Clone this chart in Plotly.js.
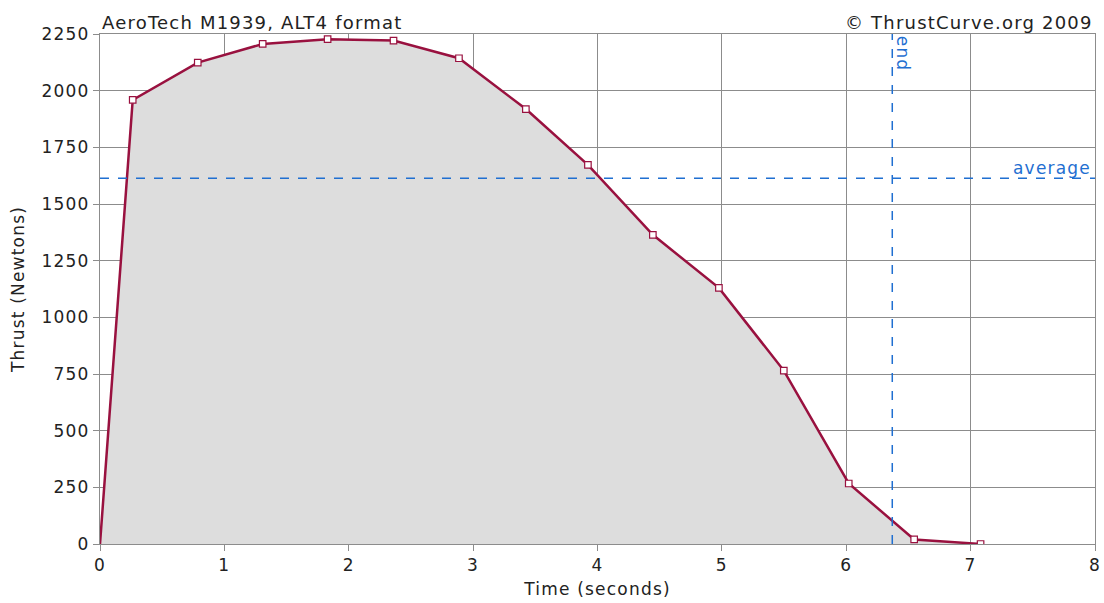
<!DOCTYPE html>
<html>
<head>
<meta charset="utf-8">
<script src="https://cdn.plot.ly/plotly-3.0.1.min.js"></script>
<style>
html,body{margin:0;padding:0;background:#fff;}
#chart{width:1104px;height:603px;}
text{letter-spacing:1.2px;}
</style>
</head>
<body>
<div id="chart"></div>
<script>
const timeSec = [0, 0.263, 0.786, 1.308, 1.830, 2.360, 2.886, 3.424, 3.923, 4.445, 4.976, 5.498, 6.020, 6.546, 7.080];
const thrustN = [0, 1959, 2124, 2206, 2227, 2221, 2143, 1919, 1673, 1364, 1130, 765, 267, 20, 0];
const averageThrust = 1614;
const burnEnd = 6.37;
const xTicks = [0, 1, 2, 3, 4, 5, 6, 7, 8];
const yTicks = [0, 250, 500, 750, 1000, 1250, 1500, 1750, 2000, 2250];
const titleLeft = "AeroTech M1939, ALT4 format";
const titleRight = "© ThrustCurve.org 2009";

const font = "DejaVu Sans, sans-serif";
const blue = "#1f6fd1";
const gridColor = "#8c8c8c";
const fs = 17;

// no marker on the origin point, as in the reference
const markerSizes = timeSec.map((t, i) => (i === 0 ? 0 : 6.5));

const traces = [
  {
    x: timeSec, y: thrustN, type: "scatter", mode: "lines+markers",
    fill: "tozeroy", fillcolor: "#dddddd",
    line: {color: "#99113f", width: 2.5},
    marker: {symbol: "square", size: markerSizes, opacity: 1, color: "#ffffff", line: {color: "#99113f", width: 1.2}},
    hoverinfo: "skip"
  }
];

const layout = {
  width: 1104, height: 603,
  margin: {l: 100, r: 9, t: 34, b: 59},
  paper_bgcolor: "#ffffff", plot_bgcolor: "#ffffff",
  showlegend: false,
  font: {family: font, size: fs, color: "#222"},
  xaxis: {
    range: [0, 8], tickvals: xTicks, ticktext: xTicks.map(String),
    showgrid: true, gridcolor: gridColor, gridwidth: 1,
    zeroline: false, showline: true, linecolor: gridColor, linewidth: 1, mirror: true,
    ticks: "outside", ticklen: 6, tickcolor: gridColor,
    tickfont: {family: font, size: fs, color: "#222"},
    title: {text: "Time (seconds)", font: {family: font, size: fs, color: "#222"}, standoff: 8}
  },
  yaxis: {
    range: [0, 2250], tickvals: yTicks, ticktext: yTicks.map(String),
    showgrid: true, gridcolor: gridColor, gridwidth: 1,
    zeroline: false, showline: true, linecolor: gridColor, linewidth: 1, mirror: true,
    ticks: "outside", ticklen: 6, tickcolor: gridColor,
    tickfont: {family: font, size: fs, color: "#222"},
    title: {text: "Thrust (Newtons)", font: {family: font, size: fs, color: "#222"}, standoff: 12}
  },
  shapes: [
    {type: "line", xref: "paper", x0: 0, x1: 1, yref: "y", y0: averageThrust, y1: averageThrust,
     line: {color: blue, width: 1.5, dash: "dash"}},
    {type: "line", xref: "x", x0: burnEnd, x1: burnEnd, yref: "paper", y0: 0, y1: 1,
     line: {color: blue, width: 1.5, dash: "dash"}}
  ],
  annotations: [
    {text: titleLeft, xref: "paper", yref: "paper", x: 0, y: 1, xanchor: "left", yanchor: "bottom",
     yshift: -1, showarrow: false, font: {family: font, size: 18, color: "#222"}},
    {text: titleRight, xref: "paper", yref: "paper", x: 1, y: 1, xanchor: "right", yanchor: "bottom",
     yshift: -1, showarrow: false, font: {family: font, size: 18, color: "#222"}},
    {text: "average", xref: "paper", yref: "y", x: 1, y: averageThrust, xanchor: "right", yanchor: "bottom",
     xshift: -2, yshift: -2, showarrow: false, font: {family: font, size: fs, color: blue}},
    {text: "end", xref: "x", yref: "paper", x: burnEnd, y: 1, xanchor: "left", yanchor: "top",
     textangle: 90, xshift: -1, yshift: 0, showarrow: false, font: {family: font, size: fs, color: blue}}
  ]
};

Plotly.newPlot("chart", traces, layout, {displayModeBar: false, staticPlot: true});
</script>
</body>
</html>
